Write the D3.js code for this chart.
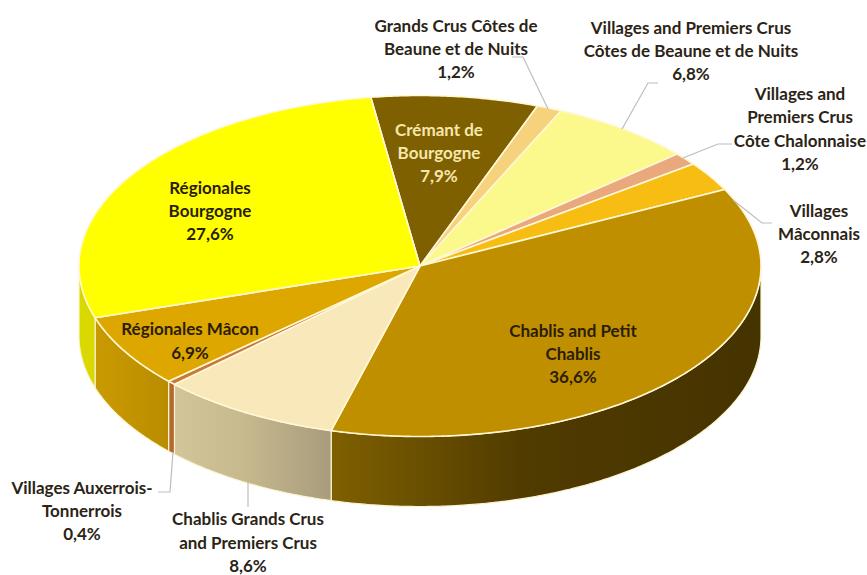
<!DOCTYPE html>
<html>
<head>
<meta charset="utf-8">
<script src="https://cdn.jsdelivr.net/npm/d3@7/dist/d3.min.js"></script>
<style>
html,body{margin:0;padding:0;background:#fff;}
svg{display:block;}
text{font-family:Lato,"Open Sans",sans-serif;font-weight:700;font-size:17px;text-anchor:middle;dominant-baseline:central;}
</style>
</head>
<body>
<svg id="chart" width="867" height="575"></svg>
<script>
// Burgundy wine production by appellation family, clockwise from the Crémant slice
const categories = [
  ["Crémant de", "Bourgogne"],
  ["Grands Crus Côtes de", "Beaune et de Nuits"],
  ["Villages and Premiers Crus", "Côtes de Beaune et de Nuits"],
  ["Villages and", "Premiers Crus", "Côte Chalonnaise"],
  ["Villages", "Mâconnais"],
  ["Chablis and Petit", "Chablis"],
  ["Chablis Grands Crus", "and Premiers Crus"],
  ["Villages Auxerrois-", "Tonnerrois"],
  ["Régionales Mâcon"],
  ["Régionales", "Bourgogne"]
];
const values = [7.9, 1.2, 6.8, 1.2, 2.8, 36.6, 8.6, 0.4, 6.9, 27.6];

const topColors = ["#7f6000", "#f6d27c", "#fbf98b", "#e9a97c", "#f8bd12", "#bf8f00", "#f9e8ba", "#c77a3c", "#dea700", "#ffff00"];
const sideStart = ["#7f6000", "#f6d27c", "#fbf98b", "#e9a97c", "#f8bd12", "#7f6000", "#d2c59a", "#b5682f", "#c99a00", "#d9d900"];
const sideMiddle = ["#7f6000", "#f6d27c", "#fbf98b", "#e9a97c", "#f8bd12", "#503b00", "#c6b98e", "#b5682f", "#c39400", "#d9d900"];
const sideEnd = ["#7f6000", "#f6d27c", "#fbf98b", "#e9a97c", "#f8bd12", "#453300", "#a89c7c", "#b5682f", "#b98c00", "#d9d900"];
const labelColors = ["#f6e7ac", "#2b2416", "#2b2416", "#2b2416", "#2b2416", "#2b1d08", "#2b2416", "#2b2416", "#2b1d08", "#2b1d08"];

// Centre of each label block and the line spacing used inside it
const labelCentres = [[439, 152], [456, 48], [691, 50], [800, 128], [819, 233], [573, 353], [248, 541.5], [82, 510], [190, 340], [210, 210]];
const lineHeight = 23.3;

// Grey leader lines for the labels placed outside the pie
const leaderPaths = [
  [[548, 109], [523, 57], [512, 57]],
  [[622, 129], [648, 83], [658, 83]],
  [[683, 158], [718, 144], [732, 144]],
  [[733, 200], [762, 223], [772, 223]],
  [[248, 482], [248, 507]],
  [[173, 452], [170, 492], [158, 492]]
];

const cx = 420, cy = 266, rx = 341, ry = 170.5, depth = 70;
const firstAngle = -8.3 * Math.PI / 180;

const svg = d3.select("#chart");
const defs = svg.append("defs");

const x = d3.scaleLinear().domain([-1, 1]).range([cx - rx, cx + rx]);
const y = d3.scaleLinear().domain([-1, 1]).range([cy - ry, cy + ry]);

const slices = d3.pie().sort(null).startAngle(firstAngle).endAngle(firstAngle + 2 * Math.PI)(values);

// Point on the rim, with angle measured clockwise from twelve o'clock
const rim = (a, drop = 0) => {
  const [px, py] = d3.pointRadial(a, 1);
  return [x(px), y(py) + drop];
};
const arcPoints = (a0, a1, drop = 0) => {
  const n = Math.max(2, Math.ceil((a1 - a0) / 0.01));
  return d3.range(n + 1).map(i => rim(a0 + (a1 - a0) * i / n, drop));
};
const line = d3.line();

// Extruded wall: only the part of the rim facing the viewer is visible
const frontFrom = Math.PI / 2, frontTo = 3 * Math.PI / 2;
const sides = svg.append("g");
slices.forEach((s, i) => {
  const a0 = Math.max(s.startAngle, frontFrom), a1 = Math.min(s.endAngle, frontTo);
  if (a1 <= a0) return;
  const gid = "wall" + i;
  const g = defs.append("linearGradient").attr("id", gid).attr("x1", 0).attr("x2", 1).attr("y1", 0).attr("y2", 0);
  g.append("stop").attr("offset", "0%").attr("stop-color", sideStart[i]);
  g.append("stop").attr("offset", "45%").attr("stop-color", sideMiddle[i]);
  g.append("stop").attr("offset", "100%").attr("stop-color", sideEnd[i]);
  const pts = arcPoints(a0, a1).concat(arcPoints(a0, a1, depth).reverse());
  sides.append("path")
    .attr("d", line(pts) + "Z")
    .attr("fill", `url(#${gid})`)
    .attr("stroke", "#fbf3cf")
    .attr("stroke-width", 1.2)
    .attr("stroke-linejoin", "round");
});

// Top face of the pie
svg.append("g").selectAll("path").data(slices).join("path")
  .attr("d", s => line([[cx, cy], ...arcPoints(s.startAngle, s.endAngle)]) + "Z")
  .attr("fill", (s, i) => topColors[i])
  .attr("stroke", "#fff7d6")
  .attr("stroke-width", 1.6)
  .attr("stroke-linejoin", "round");

// Leader lines
svg.append("g").selectAll("path").data(leaderPaths).join("path")
  .attr("d", d => line(d))
  .attr("fill", "none")
  .attr("stroke", "#bdbdbd")
  .attr("stroke-width", 1.2);

// Labels: category lines followed by the percentage, with a decimal comma
const pct = v => d3.format(".1f")(v).replace(".", ",") + "%";
const labels = svg.append("g");
categories.forEach((lines, i) => {
  const all = lines.concat(pct(values[i]));
  const [lx, ly] = labelCentres[i];
  const t = labels.append("text").attr("fill", labelColors[i]);
  all.forEach((str, k) => {
    t.append("tspan")
      .attr("x", lx)
      .attr("y", ly + (k - (all.length - 1) / 2) * lineHeight)
      .text(str);
  });
});
</script>
</body>
</html>
